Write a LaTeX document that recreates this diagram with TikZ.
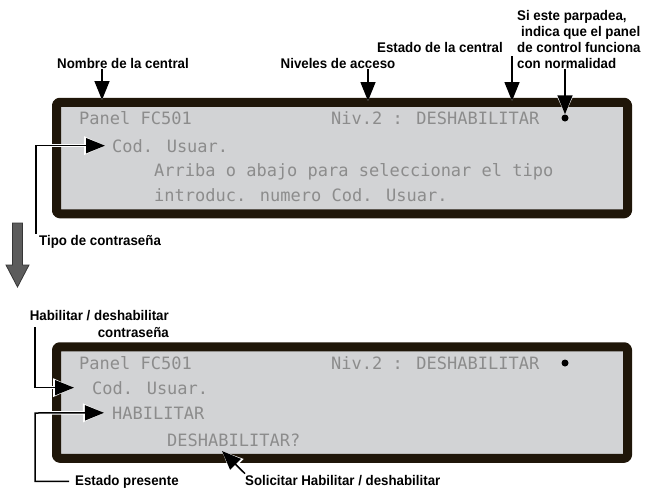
\documentclass[tikz,border=0pt]{standalone}
\usepackage{fontspec}
\setmainfont{Liberation Sans}
\newfontfamily\lcdfont{DejaVu Sans Mono}
\newfontfamily\tagfont[FakeStretch=0.95]{Liberation Sans}
\usepackage{tikz}
\usetikzlibrary{arrows.meta,positioning,calc}
\definecolor{frame}{HTML}{1F1609}
\definecolor{lcdgray}{HTML}{D2D3D5}
\definecolor{lcdink}{HTML}{8C8C8C}
\definecolor{flowgray}{HTML}{5C5C5C}
\definecolor{flowedge}{HTML}{363636}
\tikzset{
    every picture/.style={line cap=round,line join=round},
    lcdpanel/.style={draw=frame,fill=lcdgray,line width=9pt,rounded corners=3pt,
      minimum width=571pt,minimum height=111.5pt,inner sep=0pt},
    lcdline/.style={anchor=base west,inner sep=0pt,text=lcdink,
      font=\lcdfont\fontsize{17}{20}\selectfont},
    led/.style={circle,fill=black,inner sep=0pt,minimum size=7pt},
    tag/.style={inner sep=1pt,font=\tagfont\bfseries\fontsize{14}{16}\selectfont},
    callout/.style={draw=black,line width=1.5pt,line cap=butt,line join=miter,
      -{Triangle[length=19pt,width=15pt]},
      preaction={draw=white,line width=3.5pt,
        -{Triangle[length=21pt,width=18pt]}}},
    flowarrow/.style={fill=flowgray,draw=flowedge,line width=0.8pt,line join=miter}
}

\begin{document}
\begin{tikzpicture}[x=1pt,y=-1pt]
  \useasboundingbox (0,0) rectangle (650,488);
  % first screen
  \node[lcdpanel] (p1) at (342,158) {};
  \node[lcdline] (name1) at (79,124) {Panel FC501};
  \node[lcdline] (lvl1) at (331,124) {Niv.2 : DESHABILITAR};
  \node[led] (led1) at (565,118) {};
  \node[lcdline] (cod1) at (112,152) {Cod. Usuar.};
  \node[lcdline] (hint1) at (154,176) {Arriba o abajo para seleccionar el tipo};
  \node[lcdline] (hint2) at (154,201) {introduc. numero Cod. Usuar.};
  % second screen
  \node[lcdpanel] (p2) at (342,402.5) {};
  \node[lcdline] (name2) at (79,369) {Panel FC501};
  \node[lcdline] (lvl2) at (331,369) {Niv.2 : DESHABILITAR};
  \node[led] (led2) at (565,363) {};
  \node[lcdline] (cod2) at (92,394) {Cod. Usuar.};
  \node[lcdline] (hab) at (112,419) {HABILITAR};
  \node[lcdline] (desh) at (167,446) {DESHABILITAR?};
  % labels
  \node[tag,anchor=base] (tagname) at (123,68) {Nombre de la central};
  \node[tag,anchor=base] (taglevel) at (338,68) {Niveles de acceso};
  \node[tag,anchor=base east] (tagstate) at (504,52) {Estado de la central};
  \node[tag,anchor=north west,align=left] (tagblink) at (516,8.8)
    {Si este parpadea,\\\hspace*{4pt}indica que el panel\\de control funciona\\con normalidad};
  \node[tag,anchor=base west] (tagtype) at (38,245) {Tipo de contrase\~na};
  \node[tag,anchor=north east,align=right,font=\tagfont\bfseries\fontsize{14}{17}\selectfont]
    (taghab) at (170,308.8) {Habilitar / deshabilitar\\contrase\~na};
  \node[tag,anchor=base west] (tagnow) at (74,485) {Estado presente};
  \node[tag,anchor=base west] (tagask) at (244,485) {Solicitar Habilitar / deshabilitar};
  \coordinate (nameTip) at (102,100);
  \coordinate (levelTip) at (368,101);
  \coordinate (stateTip) at (512,101);
  \coordinate (habStart) at (35,327);
  \coordinate (railB) at (35,413);
  \coordinate (askTip) at (222,451);
  % callouts
  \draw[callout] (tagname.south -| nameTip) -- (nameTip);
  \draw[callout] (taglevel.south -| levelTip) -- (levelTip);
  \draw[callout] ([yshift=-3pt]tagstate.south -| stateTip) -- (stateTip);
  \draw[callout] (tagblink.south -| led1) -- (led1);
  \draw[callout] ([xshift=-2pt]tagtype.north west) |- ([xshift=-7pt]cod1.west);
  \draw[callout] (habStart) |- ([xshift=-18pt]cod2.west);
  \draw[callout] ([xshift=-5pt]tagnow.west) -| (railB) -- ([xshift=-8pt]hab.west);
  \draw[callout] ([xshift=1pt]tagask.north west) -- (askTip);
  % flow between screens
  \draw[flowarrow] (12.5,223) -- (22.5,223) -- (22.5,265) -- (29,265) -- (17.5,287)
    -- (6,265) -- (12.5,265) -- cycle;
\end{tikzpicture}
\end{document}
